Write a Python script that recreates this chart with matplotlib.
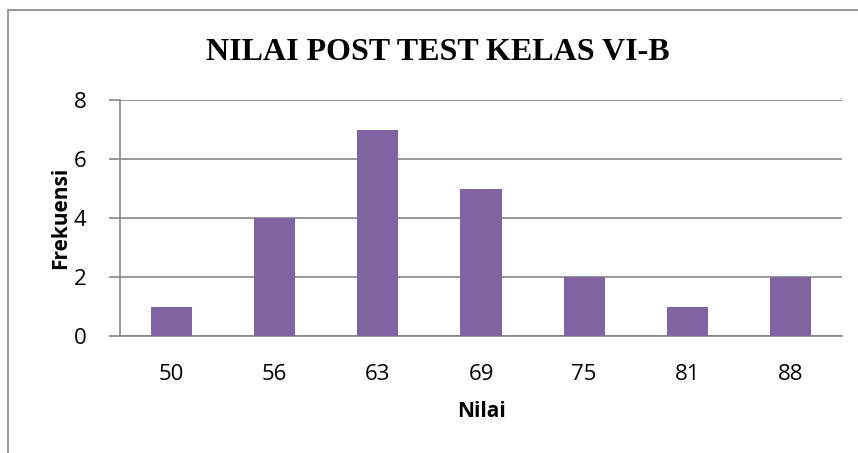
import matplotlib
matplotlib.use("Agg")
import matplotlib.pyplot as plt
from matplotlib.patches import Rectangle

categories = ["50", "56", "63", "69", "75", "81", "88"]
frekuensi = [1, 4, 7, 5, 2, 1, 2]
yticks = [0, 2, 4, 6, 8]

W, H = 858, 453
fig = plt.figure(figsize=(W/100, H/100), dpi=100)
ax = fig.add_axes([120/W, 1-336/H, (842-120)/W, (336-100)/H])

# outer chart border (extends past image edge at right/bottom)
fig.patches.append(Rectangle((8/W, -0.1), 1.2, 1-10/H+0.1, transform=fig.transFigure,
                             fill=False, edgecolor="#868686", linewidth=1.2))

x = range(len(categories))
ax.bar(x, frekuensi, width=0.4, color="#8064A2", zorder=3)
ax.set_xlim(-0.5, len(categories)-0.5)
ax.set_ylim(0, 8)
ax.set_yticks(yticks)
ax.set_xticks(list(x))
ax.set_xticklabels(categories)
ax.yaxis.grid(True, color="#868686", linewidth=1.2, zorder=0)
for s in ["top", "right"]:
    ax.spines[s].set_visible(False)
for s in ["left", "bottom"]:
    ax.spines[s].set_color("#868686")
    ax.spines[s].set_linewidth(1.2)
ax.tick_params(axis="y", length=8, width=1.2, color="#868686", pad=16, labelsize=16)
ax.tick_params(axis="x", length=0, pad=20, labelsize=16)
for lab in ax.get_xticklabels() + ax.get_yticklabels():
    lab.set_fontfamily("Open Sans")

ax.set_xlabel("Nilai", fontfamily="Open Sans", fontweight="bold", fontsize=15, labelpad=12)
ax.set_ylabel("Frekuensi", fontfamily="Open Sans", fontweight="bold", fontsize=15, labelpad=2)

fig.text(438/W, 1-52/H, "NILAI POST TEST KELAS VI-B", ha="center", va="center",
         fontfamily="Liberation Serif", fontweight="bold", fontsize=23)

fig.savefig("out.png", dpi=100)
